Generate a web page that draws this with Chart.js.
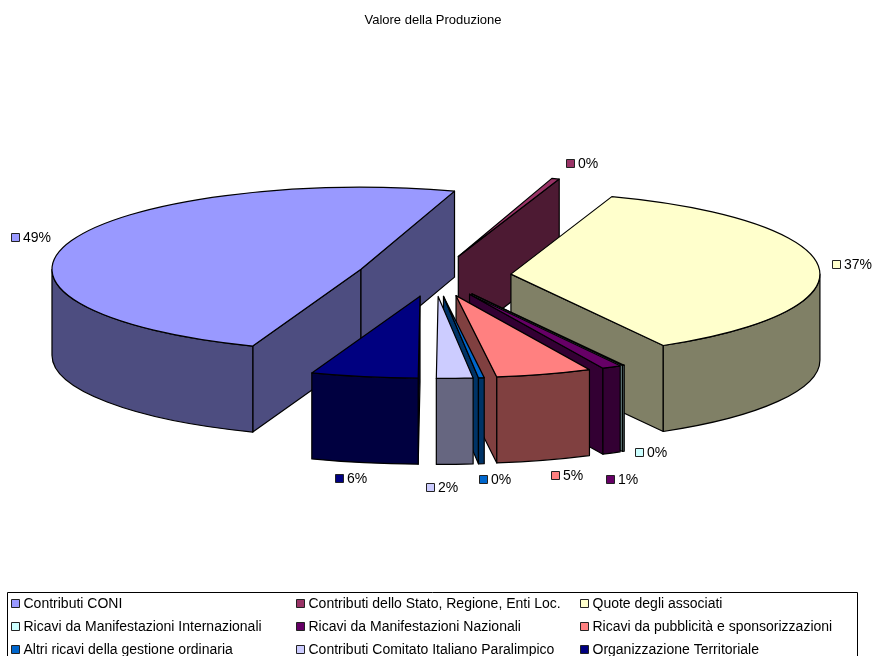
<!DOCTYPE html>
<html>
<head>
<meta charset="utf-8">
<title>Valore della Produzione</title>
<script src="https://cdn.jsdelivr.net/npm/chart.js@4"></script>
<style>
  html, body { margin: 0; padding: 0; background: #fff; overflow: hidden; }
  canvas { display: block; }
</style>
</head>
<body>
<canvas id="pie" width="874" height="656"></canvas>
<script>
// values, the labels only show them rounded
var categories = [
  'Contributi CONI',
  'Contributi dello Stato, Regione, Enti Loc.',
  'Quote degli associati',
  'Ricavi da Manifestazioni Internazionali',
  'Ricavi da Manifestazioni Nazionali',
  'Ricavi da pubblicità e sponsorizzazioni',
  'Altri ricavi della gestione ordinaria',
  'Contributi Comitato Italiano Paralimpico',
  'Organizzazione Territoriale'
];
var values = [49.2, 0.4, 36.5, 0.1, 1, 5, 0.3, 1.9, 5.6];
var colors = ['#9999FF', '#993366', '#FFFFCC', '#CCFFFF', '#660066', '#FF8080', '#0066CC', '#CCCCFF', '#000080'];

// look of the fake 3d pie (excel style)
const CX = 434, CY = 276, RX = 309, RY = 82, DEPTH = 86;
const EXPLODE = 0.25;
const FONT = '14px "Liberation Sans", Arial, sans-serif';

// where excel left each percent label: key left edge, key middle y
var labelSpots = [[11, 238], [566, 164], [832, 265], [635, 453], [606, 480], [551, 476], [479, 480], [426, 488], [335, 479]];
var legendCols = [11, 296, 580];
var legendRows = [604, 627, 650];

function darken(hex) {
  var n = parseInt(hex.slice(1), 16);
  var half = function(c) { return Math.round(c / 2); };
  return 'rgb(' + half(n >> 16) + ',' + half((n >> 8) & 255) + ',' + half(n & 255) + ')';
}

function key(ctx, x, midY, color) {
  ctx.fillStyle = color;
  ctx.strokeStyle = '#222';
  ctx.lineWidth = 1;
  ctx.fillRect(x + 0.5, midY - 4.5, 8, 8);
  ctx.strokeRect(x + 0.5, midY - 4.5, 8, 8);
}

function drawSlice(ctx, arc, i) {
  var mid = (arc.startAngle + arc.endAngle) / 2;
  var ax = CX + Math.cos(mid) * EXPLODE * RX;
  var ay = CY + Math.sin(mid) * EXPLODE * RY;
  var s = arc.startAngle, e = arc.endAngle;
  var side = darken(colors[i]);
  ctx.lineWidth = 1.2;
  ctx.strokeStyle = '#000';
  ctx.lineJoin = 'round';

  // the cut faces, only the ones turned to the viewer
  function wall(a) {
    var x = ax + Math.cos(a) * RX, y = ay + Math.sin(a) * RY;
    ctx.beginPath();
    ctx.moveTo(ax, ay);
    ctx.lineTo(x, y);
    ctx.lineTo(x, y + DEPTH);
    ctx.lineTo(ax, ay + DEPTH);
    ctx.closePath();
    ctx.fillStyle = side;
    ctx.fill();
    ctx.stroke();
  }
  if (Math.cos(s) < 0) wall(s);
  if (Math.cos(e) > 0) wall(e);

  // rim, only the front half of the ellipse shows
  [0, Math.PI * 2].forEach(function(from) {
    var a0 = Math.max(s, from), a1 = Math.min(e, from + Math.PI);
    if (a1 <= a0) return;
    ctx.beginPath();
    ctx.ellipse(ax, ay, RX, RY, 0, a0, a1);
    ctx.ellipse(ax, ay + DEPTH, RX, RY, 0, a1, a0, true);
    ctx.closePath();
    ctx.fillStyle = side;
    ctx.fill();
    ctx.stroke();
  });

  // top face is the library's own arc, squashed and moved
  ctx.save();
  ctx.translate(ax, ay);
  ctx.scale(RX / arc.outerRadius, RY / arc.outerRadius);
  ctx.translate(-arc.x, -arc.y);
  arc.draw(ctx);
  ctx.restore();

  // outline after the restore or the squash would thin the line
  ctx.beginPath();
  ctx.moveTo(ax, ay);
  ctx.ellipse(ax, ay, RX, RY, 0, s, e);
  ctx.closePath();
  ctx.stroke();
}

var pie3d = {
  id: 'pie3d',
  beforeDatasetsDraw: function(chart) {
    var ctx = chart.ctx;
    var arcs = chart.getDatasetMeta(0).data;
    var order = arcs.map(function(a, i) { return i; });
    // back to front
    order.sort(function(p, q) {
      return Math.sin((arcs[p].startAngle + arcs[p].endAngle) / 2) - Math.sin((arcs[q].startAngle + arcs[q].endAngle) / 2);
    });
    order.forEach(function(i) { drawSlice(ctx, arcs[i], i); });
    return false;
  },
  afterDraw: function(chart) {
    var ctx = chart.ctx;
    var total = values.reduce(function(a, b) { return a + b; }, 0);
    ctx.save();
    ctx.font = FONT;
    ctx.textBaseline = 'middle';

    // percent labels
    values.forEach(function(v, i) {
      var spot = labelSpots[i];
      key(ctx, spot[0], spot[1], colors[i]);
      ctx.fillStyle = '#000';
      ctx.fillText(Math.round(v / total * 100) + '%', spot[0] + 12, spot[1] + 0.5);
    });

    // legend box, runs off the bottom of the picture like the original
    ctx.strokeStyle = '#000';
    ctx.lineWidth = 1;
    ctx.strokeRect(7.5, 592.5, 850, 70);
    categories.forEach(function(name, i) {
      var x = legendCols[i % 3], y = legendRows[Math.floor(i / 3)];
      key(ctx, x, y, colors[i]);
      ctx.fillStyle = '#000';
      ctx.fillText(name, x + 12.5, y + 0.5);
    });
    ctx.restore();
  }
};

var myPie = new Chart(document.getElementById('pie'), {
  type: 'pie',
  data: {
    labels: categories,
    datasets: [{
      data: values,
      backgroundColor: colors,
      borderWidth: 0,
      hoverOffset: 0
    }]
  },
  plugins: [pie3d],
  options: {
    responsive: false,
    animation: false,
    rotation: 200.5,
    layout: { padding: { right: 8 } },
    events: [],
    plugins: {
      legend: { display: false },
      tooltip: { enabled: false },
      title: {
        display: true,
        text: 'Valore della Produzione',
        color: '#000',
        font: { family: '"Liberation Sans", Arial, sans-serif', size: 13, weight: 'normal' },
        padding: { top: 13, bottom: 10 }
      }
    }
  }
});
</script>
</body>
</html>
